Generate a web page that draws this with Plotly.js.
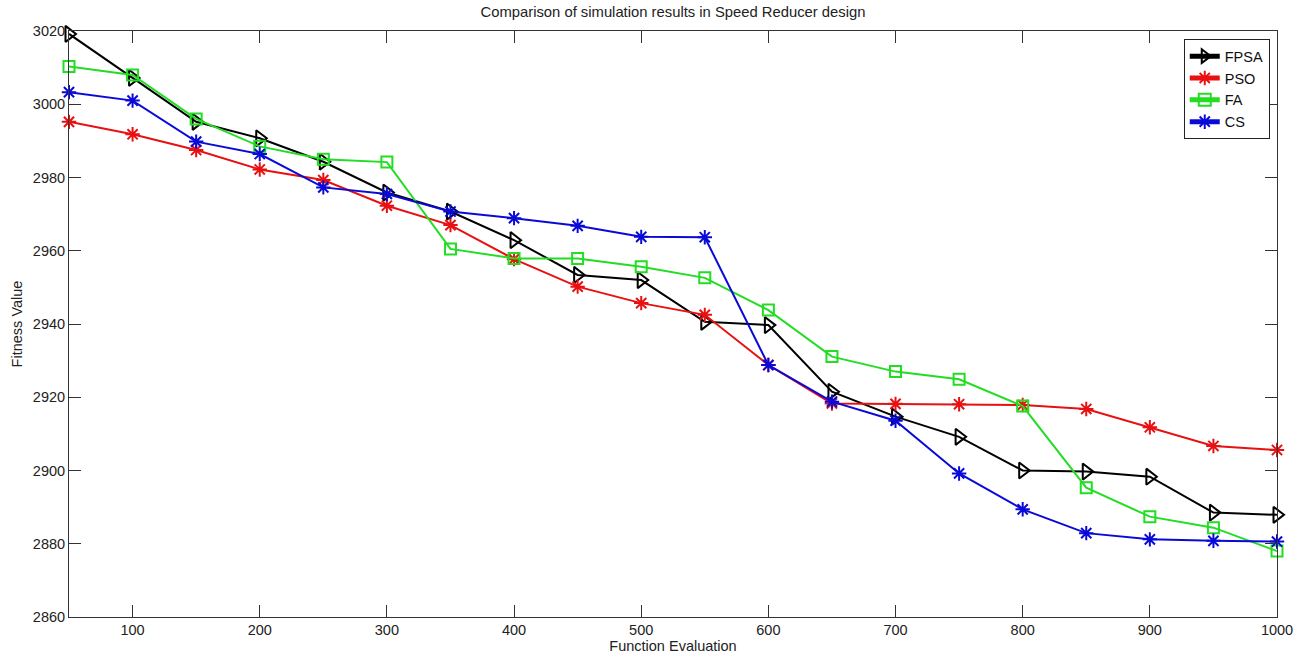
<!DOCTYPE html>
<html>
<head>
<meta charset="utf-8">
<script src="https://cdn.plot.ly/plotly-3.0.1.min.js"></script>
<style>html,body{margin:0;padding:0;background:#fff;}#chart{width:1305px;height:658px;}</style>
</head>
<body>
<div id="chart"></div>
<script>
var evaluations = [50,100,150,200,250,300,350,400,450,500,550,600,650,700,750,800,850,900,950,1000];
var fpsa = [3019.2,3007.2,2995.2,2990.7,2984.3,2975.9,2970.7,2962.9,2953.4,2952.0,2940.6,2939.7,2921.5,2914.7,2909.2,2900.0,2899.7,2898.3,2888.5,2887.9];
var pso  = [2995.2,2991.8,2987.5,2982.2,2979.3,2972.3,2967.0,2957.7,2950.2,2945.7,2942.5,2928.8,2918.3,2918.2,2918.1,2917.9,2916.8,2911.8,2906.7,2905.6];
var fa   = [3010.3,3008.0,2996.0,2988.5,2985.0,2984.2,2960.5,2957.9,2957.9,2955.6,2952.6,2943.8,2931.1,2927.0,2924.9,2917.6,2895.3,2887.4,2884.4,2878.0];
var cs   = [3003.3,3001.0,2989.8,2986.4,2977.3,2975.5,2970.7,2968.9,2966.8,2963.8,2963.7,2928.8,2918.8,2913.6,2899.2,2889.4,2882.9,2881.2,2880.8,2880.6];
var seriesNames = ['FPSA','PSO','FA','CS'];
var xTicks = [100,200,300,400,500,600,700,800,900,1000];
var yTicks = [2860,2880,2900,2920,2940,2960,2980,3000,3020];

var font = "Arial, 'Liberation Sans', sans-serif";
function tr(name, y, color, symbol, size){
  return {x: evaluations, y: y, name: name, type:'scatter', mode:'lines+markers', cliponaxis:false,
    line:{color:color, width:2},
    marker:{symbol:symbol, size:size, color:color, line:{color:color, width:2}}};
}
var data = [
  tr(seriesNames[0], fpsa, '#000000', 'triangle-right-open', 14),
  tr(seriesNames[1], pso, '#e81010', 'asterisk-open', 12),
  tr(seriesNames[2], fa, '#22dd22', 'square-open', 11),
  tr(seriesNames[3], cs, '#0a0ad8', 'asterisk-open', 12)
];
var layout = {
  width:1305, height:658,
  margin:{l:69, r:28, t:31, b:41},
  paper_bgcolor:'#ffffff', plot_bgcolor:'#ffffff',
  font:{family:font, size:14.5, color:'#222'},
  title:{text:'Comparison of simulation results in Speed Reducer design', xref:'paper', x:0.5, xanchor:'center', y:0.99, yanchor:'top', font:{family:font, size:14.8, color:'#222'}},
  xaxis:{range:[50,1000], tickvals:xTicks, ticktext:xTicks.map(String), ticks:'inside', ticklen:12, tickcolor:'#333', tickwidth:1,
    showline:true, linecolor:'#333', linewidth:1, mirror:'ticks', showgrid:false, zeroline:false,
    tickfont:{family:font, size:14.5, color:'#222'},
    title:{text:'Function Evaluation', standoff:2, font:{family:font, size:14.5, color:'#222'}}},
  yaxis:{range:[2860,3020], tickvals:yTicks, ticktext:yTicks.map(String), ticks:'inside', ticklen:12, tickcolor:'#333', tickwidth:1,
    showline:true, linecolor:'#333', linewidth:1, mirror:'ticks', showgrid:false, zeroline:false,
    tickfont:{family:font, size:14.5, color:'#222'},
    title:{text:'Fitness Value', standoff:6, font:{family:font, size:14.5, color:'#222'}}},
  legend:{x:0.994, xanchor:'right', y:0.986, yanchor:'top', bgcolor:'#ffffff', bordercolor:'#222', borderwidth:1,
    font:{family:font, size:14.5, color:'#111'}, tracegroupgap:0, itemsizing:'constant'},
  showlegend:true
};
Plotly.newPlot('chart', data, layout, {displayModeBar:false, staticPlot:true});
</script>
</body>
</html>
